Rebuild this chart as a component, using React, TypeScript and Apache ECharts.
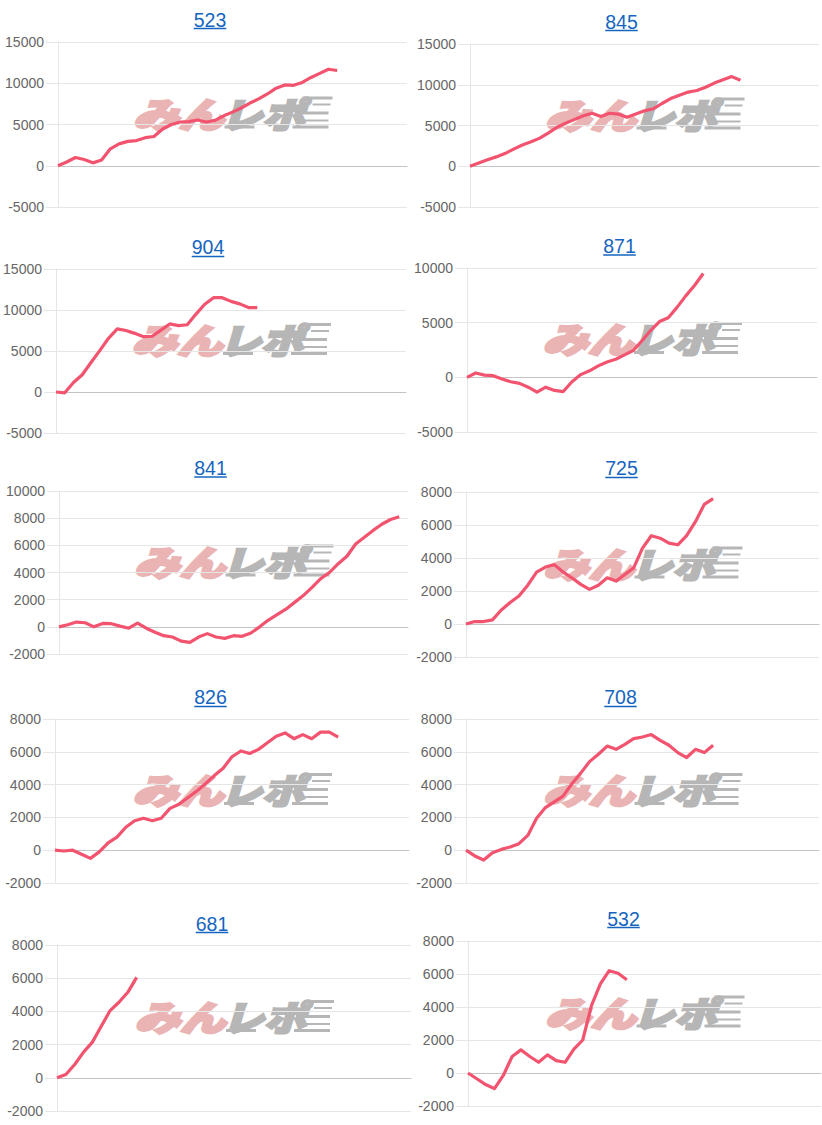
import React, { useEffect, useRef } from "react";
import * as echarts from "echarts";

// Titles (machine numbers)
const titles = ["523", "845", "904", "871", "841", "725", "826", "708", "681", "532"];

// x slots (progress steps)
const steps = Array.from({ length: 41 }, (_, i) => String(i));

// Series values (difference in coins)
const v523 = [0, 450, 1000, 750, 350, 700, 2050, 2650, 2950, 3050, 3400, 3550, 4450, 5000, 5300, 5350, 5550, 5300, 5500, 6050, 6500, 7000, 7600, 8100, 8700, 9400, 9800, 9750, 10100, 10700, 11200, 11700, 11550];
const v845 = [0, 400, 800, 1150, 1550, 2100, 2600, 3000, 3450, 4100, 4800, 5300, 5750, 6200, 6500, 6100, 6500, 6400, 6000, 6400, 6800, 7050, 7700, 8300, 8700, 9100, 9300, 9700, 10200, 10600, 11000, 10550];
const v904 = [0, -100, 1150, 2100, 3600, 5050, 6550, 7700, 7500, 7150, 6750, 6800, 7550, 8300, 8100, 8200, 9500, 10700, 11500, 11500, 11050, 10750, 10300, 10300];
const v871 = [0, 400, 200, 150, -150, -400, -550, -900, -1350, -900, -1200, -1300, -400, 250, 600, 1050, 1400, 1650, 2050, 2450, 3350, 4300, 5100, 5450, 6400, 7450, 8400, 9500];
const v841 = [0, 150, 350, 300, 0, 250, 230, 50, -100, 280, -100, -400, -650, -750, -1050, -1150, -750, -500, -750, -850, -650, -700, -450, 0, 500, 900, 1300, 1800, 2300, 2900, 3550, 4000, 4650, 5200, 6100, 6600, 7100, 7550, 7900, 8100];
const v725 = [0, 150, 150, 250, 850, 1300, 1700, 2350, 3150, 3450, 3600, 3150, 2800, 2400, 2100, 2350, 2800, 2600, 3000, 3400, 4600, 5350, 5200, 4900, 4800, 5350, 6200, 7250, 7600];
const v826 = [0, -50, 0, -250, -500, -100, 450, 800, 1400, 1800, 1950, 1800, 1950, 2550, 2800, 3200, 3600, 4050, 4550, 5000, 5700, 6050, 5900, 6150, 6550, 6950, 7150, 6800, 7050, 6800, 7200, 7200, 6900];
const v708 = [0, -350, -600, -150, 50, 200, 400, 900, 1950, 2600, 2950, 3300, 4050, 4700, 5400, 5850, 6350, 6150, 6450, 6800, 6900, 7050, 6700, 6400, 5950, 5650, 6150, 5950, 6400];
const v681 = [0, 200, 800, 1550, 2150, 3100, 4050, 4550, 5150, 6050];
const v532 = [0, -350, -700, -950, -150, 1000, 1400, 1000, 650, 1100, 750, 650, 1450, 2000, 4100, 5400, 6200, 6050, 5650];

const values = [v523, v845, v904, v871, v841, v725, v826, v708, v681, v532];

// Y axis ranges per panel
const yMins = [-5000, -5000, -5000, -5000, -2000, -2000, -2000, -2000, -2000, -2000];
const yMaxs = [15000, 15000, 15000, 10000, 10000, 8000, 8000, 8000, 8000, 8000];
const yStep = [5000, 5000, 5000, 5000, 2000, 2000, 2000, 2000, 2000, 2000];

// Layout (pixels)
const grids = [
  { left: 58, top: 42, width: 349, height: 165 },
  { left: 470, top: 44, width: 349, height: 163 },
  { left: 56, top: 269, width: 350, height: 164 },
  { left: 467, top: 268, width: 350, height: 164 },
  { left: 59, top: 491, width: 349, height: 163 },
  { left: 466, top: 492, width: 353, height: 165 },
  { left: 55, top: 719, width: 354, height: 164 },
  { left: 466, top: 719, width: 353, height: 164 },
  { left: 57, top: 945, width: 354, height: 166 },
  { left: 468, top: 941, width: 353, height: 165 },
];
const titlePos = [
  [210, 20, 28.5],
  [621.5, 22, 30.5],
  [208, 247, 256.5],
  [619.5, 246, 255],
  [210.5, 468, 477],
  [621.5, 468, 477.5],
  [210.5, 697, 706.5],
  [620.5, 697, 706.5],
  [212, 924, 932.5],
  [623.5, 919, 927.5],
];

const LINE = "#f2546f";
const GRID = "#e6e6e6";
const PINK = "#ebb4b4";
const GREY = "#b6b6b6";

function watermark(cx: number, cy: number): any {
  const bars: any[] = [];
  const barSpecs = [
    [70, -16, 30, 3],
    [80, -9, 18, 2],
    [62, -1, 34, 3],
    [70, 7, 26, 2],
    [60, 13, 36, 3],
    [-8, 13, 30, 3],
  ];
  barSpecs.forEach((b) => {
    bars.push({
      type: "rect",
      shape: { x: cx + b[0], y: cy + b[1], width: b[2], height: b[3] },
      style: { fill: GREY },
      z: 0,
      silent: true,
    });
  });
  return [
    {
      type: "text",
      x: cx - 54,
      y: cy,
      scaleX: 1.3,
      z: 0,
      silent: true,
      style: {
        text: "みん",
        fill: PINK,
        stroke: PINK,
        lineWidth: 2.5,
        font: "italic 900 35px 'Noto Sans CJK JP'",
        align: "center",
        verticalAlign: "middle",
      },
    },
    {
      type: "text",
      x: cx + 30,
      y: cy,
      scaleX: 1.2,
      z: 0,
      silent: true,
      style: {
        text: "レポ",
        fill: GREY,
        stroke: GREY,
        lineWidth: 2.5,
        font: "italic 900 35px 'Noto Sans CJK JP'",
        align: "center",
        verticalAlign: "middle",
      },
    },
    ...bars,
  ];
}

export default function App() {
  const ref = useRef<HTMLDivElement>(null);
  useEffect(() => {
    if (!ref.current) return;
    const chart = echarts.init(ref.current, null, { renderer: "svg" });
    const graphic: any[] = [];
    grids.forEach((g, i) => {
      const cx = g.left + g.width / 2;
      const cy = g.top + g.height / 2 - 12;
      graphic.push(...watermark(cx, cy));
      const [tx, ty, uy] = titlePos[i];
      graphic.push({
        type: "text",
        x: tx,
        y: ty,
        z: 10,
        style: {
          text: titles[i],
          fill: "#1565c0",
          font: "19.5px Arial, 'Liberation Sans', sans-serif",
          align: "center",
          verticalAlign: "middle",
        },
      });
      const w = titles[i].length * 10.85;
      graphic.push({
        type: "line",
        z: 10,
        shape: { x1: tx - w / 2, y1: uy, x2: tx + w / 2, y2: uy },
        style: { stroke: "#1565c0", lineWidth: 1.5 },
      });
    });

    chart.setOption({
      animation: false,
      backgroundColor: "#ffffff",
      grid: grids.map((g) => ({ ...g, containLabel: false })),
      xAxis: grids.map((_, i) => ({
        type: "category",
        gridIndex: i,
        data: steps,
        boundaryGap: false,
        axisLine: { show: true, onZero: true, lineStyle: { color: "#c4c4c4", width: 1 } },
        axisTick: { show: false },
        axisLabel: { show: false },
        splitLine: { show: false },
      })),
      yAxis: grids.map((_, i) => ({
        type: "value",
        gridIndex: i,
        min: yMins[i],
        max: yMaxs[i],
        interval: yStep[i],
        axisLine: { show: true, lineStyle: { color: GRID, width: 1 } },
        axisTick: { show: true, length: 12, lineStyle: { color: GRID } },
        axisLabel: {
          color: "#666666",
          fontSize: 14,
          fontFamily: "Arial, 'Liberation Sans', sans-serif",
          margin: 14,
          formatter: (val: number) => String(val),
        },
        splitLine: { show: true, lineStyle: { color: GRID, width: 1 } },
      })),
      series: values.map((v, i) => ({
        type: "line",
        xAxisIndex: i,
        yAxisIndex: i,
        data: v,
        showSymbol: false,
        symbol: "none",
        z: 3,
        lineStyle: { color: LINE, width: 3.2, join: "round" },
      })),
      graphic,
    });
    return () => chart.dispose();
  }, []);
  return (
    <div
      ref={ref}
      style={{ position: "absolute", left: 0, top: 0, width: 822, height: 1125 }}
    />
  );
}
